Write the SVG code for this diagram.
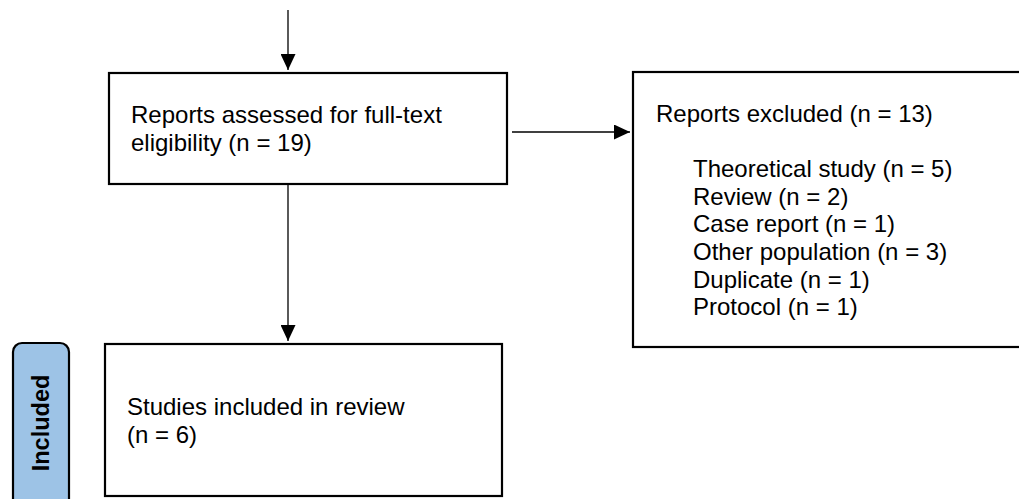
<svg xmlns="http://www.w3.org/2000/svg" width="1019" height="499" viewBox="0 0 1019 499">
<style>
.box{fill:#fff;stroke:#000;stroke-width:2.2}
.t{font-family:"Liberation Sans",Arial,sans-serif;font-size:24px;fill:#000}
.edge{stroke:#000;stroke-width:1.3;fill:none}
.lab{fill:#9dc3e6;stroke:#000;stroke-width:2.2}
.labt{font-family:"Liberation Sans",Arial,sans-serif;font-size:23.5px;font-weight:bold;fill:#000}
</style>
<defs>
<marker id="arr" viewBox="0 0 16 15" refX="16" refY="7.5" markerWidth="16" markerHeight="15" markerUnits="userSpaceOnUse" orient="auto">
<path d="M0,0 L16,7.5 L0,15 Z" fill="#000"/>
</marker>
</defs>
<g id="connectors">
<line class="edge" x1="288" y1="10" x2="288" y2="70" marker-end="url(#arr)"/>
<line class="edge" x1="512" y1="132" x2="630" y2="132" marker-end="url(#arr)"/>
<line class="edge" x1="288" y1="185" x2="288" y2="341" marker-end="url(#arr)"/>
</g>
<g id="n-assessed">
<rect class="box" x="109" y="73" width="398" height="111"/>
<text class="t" x="131" y="123">Reports assessed for full-text</text>
<text class="t" x="131" y="151">eligibility (n = 19)</text>
</g>
<g id="n-excluded">
<rect class="box" x="633" y="72" width="400" height="275"/>
<text class="t" x="656" y="122">Reports excluded (n = 13)</text>
<text class="t" x="693" y="177">Theoretical study (n = 5)</text>
<text class="t" x="693" y="205">Review (n = 2)</text>
<text class="t" x="693" y="232">Case report (n = 1)</text>
<text class="t" x="693" y="260">Other population (n = 3)</text>
<text class="t" x="693" y="288">Duplicate (n = 1)</text>
<text class="t" x="693" y="315">Protocol (n = 1)</text>
</g>
<g id="n-included">
<rect class="box" x="105" y="344" width="397" height="152"/>
<text class="t" x="127" y="415">Studies included in review</text>
<text class="t" x="127" y="443">(n = 6)</text>
</g>
<g id="lab-included">
<rect class="lab" x="13" y="343" width="56" height="170" rx="9"/>
<text class="labt" transform="translate(49,423) rotate(-90)" text-anchor="middle">Included</text>
</g>
</svg>
